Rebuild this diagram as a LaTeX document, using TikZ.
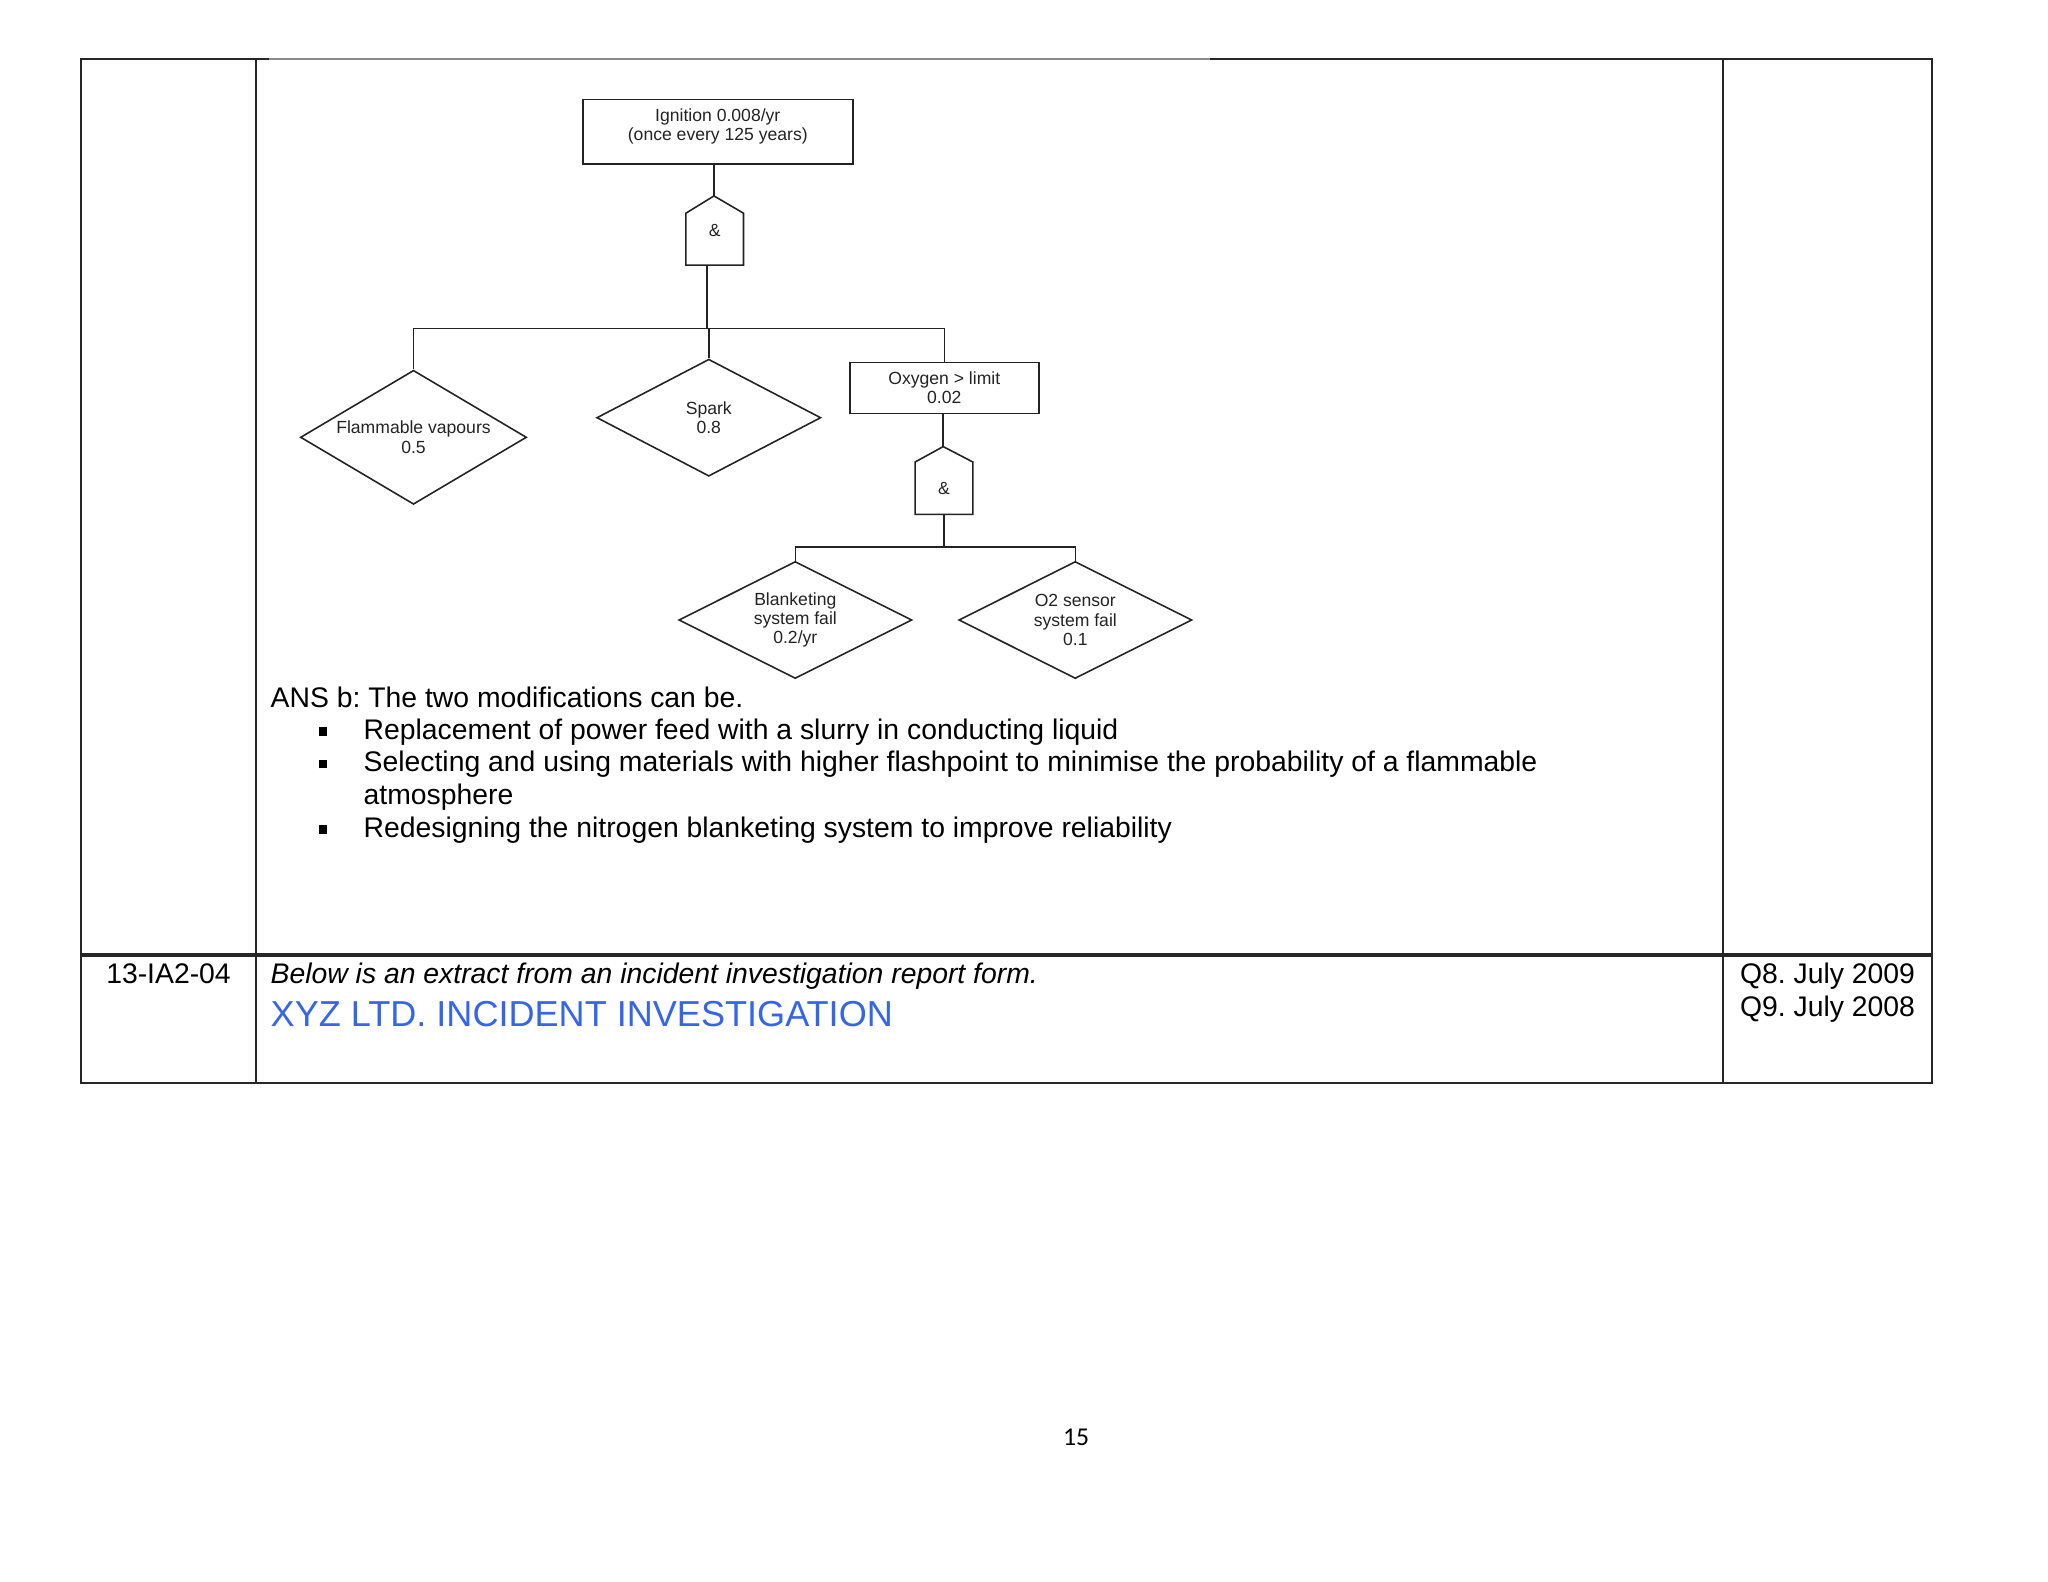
\documentclass[tikz,border=0pt]{standalone}
\usepackage{fontspec}
\setmainfont{Liberation Sans}
\newfontfamily\pagenumfont{Carlito}
\usepackage{tikz}
\usetikzlibrary{positioning, shapes.geometric, calc}
\definecolor{titleBlue}{RGB}{52, 101, 235}
\definecolor{treeInk}{RGB}{35, 35, 35}
\frenchspacing

\begin{document}
\begin{tikzpicture}[
        x=0.01cm, y=-0.01cm,
        eventbox/.style={
            rectangle,
            draw=treeInk,
            line width=0.45pt,
            inner sep=0pt,
            align=center,
            text=treeInk,
            font=\fontsize{5}{5.5}\selectfont
        },
        cause/.style={
            diamond,
            draw=treeInk,
            line width=0.45pt,
            inner sep=0pt,
            align=center,
            text=treeInk,
            font=\fontsize{5}{5.5}\selectfont
        },
        andgate/.style={
            rectangle,
            inner sep=0pt,
            minimum width=0.562cm,
            minimum height=0.505cm,
            text=treeInk,
            font=\fontsize{5}{5.5}\selectfont
        },
        wire/.style={
            draw=treeInk,
            line width=0.45pt
        },
        tableline/.style={
            line width=0.6pt,
            draw=black!85
        },
        bodytext/.style={
            anchor=base west,
            inner sep=0pt,
            font=\fontsize{8.06}{9.27}\selectfont
        },
        bulletmark/.style={
            anchor=base,
            inner sep=0pt
        }
    ]

        \useasboundingbox (0,0) rectangle (2048,1582);

        % table
        \draw[tableline] (81,59) rectangle (1932,1083);
        \draw[tableline, draw=black!45] (269,59) -- (1210,59);
        \draw[tableline] (256,59) -- (256,1083);
        \draw[tableline] (1723,59) -- (1723,1083);
        \draw[tableline, line width=0.9pt] (81,955) -- (1932,955);

        % fault tree
        \node[eventbox, minimum width=2.70cm, minimum height=0.643cm, text depth=4pt] (ignition) at (717.8,131.8) {Ignition 0.008/yr\\(once every 125 years)};
        \node[andgate] (gate1) at (714.7,239.2) {\raisebox{4.8pt}{\&}};
        \draw[wire] (gate1.south west) -- (gate1.north west) -- ++(28.1,-17.3) coordinate (gate1top) -- (gate1.north east) -- (gate1.south east) -- cycle;

        \node[cause, shape aspect=1.69, minimum width=2.26cm, minimum height=1.34cm] (vapours) at (413.5,437.3) {Flammable vapours\\0.5};
        \node[cause, shape aspect=1.91, minimum width=2.24cm, minimum height=1.17cm] (spark) at (708.8,417.7) {Spark\\0.8};
        \node[eventbox, minimum width=1.887cm, minimum height=0.507cm] (oxygen) at (944.3,388) {Oxygen > limit\\0.02};
        \node[andgate, minimum height=0.51cm] (gate2) at (944,488.2) {\&};
        \draw[wire] (gate2.south west) -- (gate2.north west) -- ++(28,-15.4) coordinate (gate2top) -- (gate2.north east) -- (gate2.south east) -- cycle;

        \node[cause, shape aspect=2, minimum width=2.33cm, minimum height=1.17cm] (blanket) at (795.3,620) {Blanketing\\system fail\\0.2/yr};
        \node[cause, shape aspect=2, minimum width=2.33cm, minimum height=1.17cm] (sensor) at (1075.3,620) {O2 sensor\\system fail\\0.1};

        \coordinate (split1) at (707,328.3);
        \coordinate (split2) at (944,547);

        \draw[wire] (ignition.south -| gate1top) -- (gate1top);
        \draw[wire] (gate1.south -| split1) -- (split1);
        \draw[wire] (vapours.north) |- (split1);
        \draw[wire] (oxygen.north) |- (split1);
        \draw[wire] (spark.north) -- (spark.north |- split1);
        \draw[wire] (oxygen.south -| gate2top) -- (gate2top);
        \draw[wire] (gate2.south) -- (split2);
        \draw[wire] (blanket.north) |- (split2);
        \draw[wire] (sensor.north) |- (split2);

        % answer text
        \node[bodytext] (ans) at (270,707) {ANS b: The two modifications can be.};
        \node[bulletmark] (mark1) at (322.6,739) {\rule[0.9pt]{2.3pt}{2.4pt}};
        \node[bodytext] (item1) at (363,739) {Replacement of power feed with a slurry in conducting liquid};
        \node[bulletmark] (mark2) at (322.6,771.5) {\rule[0.9pt]{2.3pt}{2.4pt}};
        \node[bodytext] (item2) at (363,771.5) {Selecting and using materials with higher flashpoint to minimise the probability of a flammable};
        \node[bodytext] (item2b) at (363,804) {atmosphere};
        \node[bulletmark] (mark3) at (322.6,837) {\rule[0.9pt]{2.3pt}{2.4pt}};
        \node[bodytext] (item3) at (363,837) {Redesigning the nitrogen blanketing system to improve reliability};

        % next question row
        \node[bodytext, anchor=base] (code) at (168.5,983) {13-IA2-04};
        \node[bodytext, font=\fontsize{8.06}{9.27}\selectfont\itshape] (intro) at (270,983) {Below is an extract from an incident investigation report form.};
        \node[bodytext, text=titleBlue, font=\fontsize{10.26}{12}\selectfont] (title) at (270,1026) {XYZ LTD. INCIDENT INVESTIGATION};
        \node[bodytext, anchor=base] (q8) at (1827.5,983) {Q8. July 2009};
        \node[bodytext, anchor=base] (q9) at (1827.5,1016) {Q9. July 2008};

        \node[anchor=base, inner sep=0pt, font=\pagenumfont\fontsize{7.3}{8}\selectfont] (page) at (1076,1445) {15};

    \end{tikzpicture}
\end{document}
